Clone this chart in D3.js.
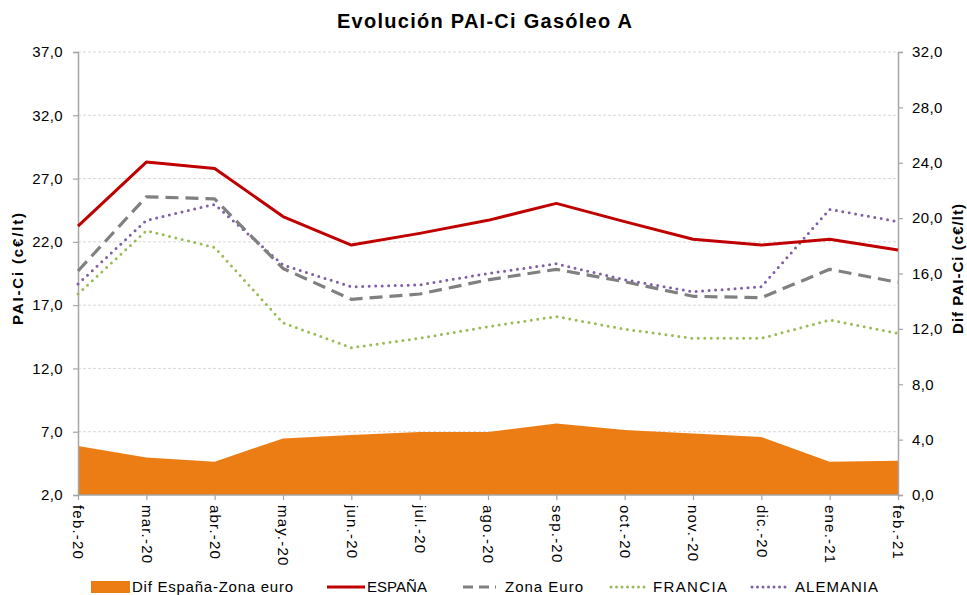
<!DOCTYPE html>
<html><head><meta charset="utf-8">
<script src="https://cdn.jsdelivr.net/npm/d3@7"></script>
<style>body{margin:0;background:#fff}svg{display:block;font-family:"Liberation Sans",Arial,sans-serif}</style>
</head><body><svg id="c" width="967" height="595"></svg>
<script>
const months = ["feb.-20","mar.-20","abr.-20","may.-20","jun.-20","jul.-20","ago.-20","sep.-20","oct.-20","nov.-20","dic.-20","ene.-21","feb.-21"];
const espana   = [23.25,28.3,27.8,24.0,21.75,22.67,23.7,25.04,23.6,22.2,21.75,22.2,21.35];
const zonaEuro = [19.7,25.56,25.4,19.9,17.46,17.88,19.0,19.83,18.85,17.7,17.59,19.83,18.8];
const francia  = [17.88,22.88,21.56,15.6,13.64,14.38,15.3,16.1,15.1,14.38,14.38,15.82,14.77];
const alemania = [18.67,23.7,24.96,20.17,18.45,18.6,19.5,20.27,19.0,18.06,18.45,24.57,23.6];
const dif      = [3.54,2.7,2.4,4.09,4.33,4.55,4.55,5.17,4.69,4.45,4.19,2.4,2.48];
const leftTicks  = [2,7,12,17,22,27,32,37];
const rightTicks = [0,4,8,12,16,20,24,28,32];

const svg = d3.select("#c");
const L=78,R=898,T=52,B=495;
const x = d3.scalePoint().domain(months).range([L,R]);
const yL = d3.scaleLinear().domain([2,37]).range([B,T]);
const yR = d3.scaleLinear().domain([0,32]).range([B,T]);
const axisCol="#A6A6A6";
const fmt = d=>d.toFixed(1).replace(".",",");

// gridlines
svg.append("g").selectAll("line").data(leftTicks.slice(1)).join("line")
  .attr("x1",L).attr("x2",R).attr("y1",d=>yL(d)).attr("y2",d=>yL(d))
  .attr("stroke","#D9D9D9").attr("stroke-width",1).attr("stroke-dasharray","3,2");

// area
svg.append("path").datum(dif)
  .attr("d",d3.area().x((d,i)=>x(months[i])).y0(yR(0)).y1(d=>yR(d)))
  .attr("fill","#EC7C14");

// axes
const gl = svg.append("g").attr("transform",`translate(${L},0)`).call(d3.axisLeft(yL).tickValues(leftTicks).tickFormat(fmt).tickSize(5).tickPadding(10));
const gr = svg.append("g").attr("transform",`translate(${R},0)`).call(d3.axisRight(yR).tickValues(rightTicks).tickFormat(fmt).tickSize(5).tickPadding(9));
const gx = svg.append("g").attr("transform",`translate(0,${B})`).call(d3.axisBottom(x).tickSize(5).tickPadding(0));
[gl,gr,gx].forEach(g=>{
  g.select(".domain").attr("stroke",axisCol).attr("stroke-width",1.5);
  g.selectAll(".tick line").attr("stroke",axisCol).attr("stroke-width",1.2);
  g.selectAll("text").attr("font-size",15).attr("fill","#000").attr("letter-spacing","0.4px")
    .attr("font-family","Liberation Sans, Arial, sans-serif");
});
gx.select(".domain").attr("d",`M${L},0H${R}`);
gx.selectAll(".tick text").attr("transform","rotate(90)").attr("text-anchor","start")
  .attr("x",10).attr("y",0).attr("dy","0.35em").attr("letter-spacing","1.2px");

// lines
const line = d3.line().x((d,i)=>x(months[i])).y(d=>yL(d));
const series = [
  {data:alemania,color:"#7F5FA8",w:3,dash:"0,6.5",cap:"round"},
  {data:francia,color:"#9BBB59",w:3,dash:"0,6.5",cap:"round"},
  {data:zonaEuro,color:"#808080",w:3.2,dash:"13,7",cap:"butt"},
  {data:espana,color:"#C00000",w:3,dash:null,cap:"butt"}
];
series.forEach(s=>{
  svg.append("path").datum(s.data).attr("d",line).attr("fill","none")
    .attr("stroke",s.color).attr("stroke-width",s.w).attr("stroke-linecap",s.cap)
    .attr("stroke-linejoin","round").attr("stroke-dasharray",s.dash);
});

// title
svg.append("text").attr("x",484.5).attr("y",28).attr("text-anchor","middle")
  .attr("font-size",20).attr("font-weight","bold")
  .attr("textLength",295).attr("lengthAdjust","spacing").text("Evolución PAI-Ci Gasóleo A");
// axis titles
svg.append("text").attr("transform",`translate(23,269) rotate(-90)`).attr("text-anchor","middle")
  .attr("font-size",15).attr("font-weight","bold")
  .attr("textLength",112).attr("lengthAdjust","spacing").text("PAI-Ci (c€/lt)");
svg.append("text").attr("transform",`translate(963,269) rotate(-90)`).attr("text-anchor","middle")
  .attr("font-size",15).attr("font-weight","bold")
  .attr("textLength",130).attr("lengthAdjust","spacing").text("Dif PAI-Ci (c€/lt)");

// legend
const lg = svg.append("g");
const ly=587;
lg.append("rect").attr("x",91).attr("y",ly-6).attr("width",39).attr("height",12).attr("fill","#EC7C14");
const legendItems = [
  {t:"Dif España-Zona euro",tx:132,tw:161},
  {t:"ESPAÑA",tx:367,tw:60,x1:327,x2:365,color:"#C00000",dash:null,cap:"butt"},
  {t:"Zona Euro",tx:505,tw:78,x1:463,x2:496,color:"#808080",dash:"10,6",cap:"butt"},
  {t:"FRANCIA",tx:653,tw:74,x1:611,x2:648,color:"#9BBB59",dash:"0,5.5",cap:"round"},
  {t:"ALEMANIA",tx:795,tw:83,x1:752,x2:789,color:"#7F5FA8",dash:"0,5.5",cap:"round"}
];
legendItems.forEach(d=>{
  if(d.x1!==undefined){
    lg.append("line").attr("x1",d.x1).attr("x2",d.x2).attr("y1",ly).attr("y2",ly)
      .attr("stroke",d.color).attr("stroke-width",3).attr("stroke-dasharray",d.dash).attr("stroke-linecap",d.cap);
  }
  lg.append("text").attr("x",d.tx).attr("y",ly).attr("dy","0.35em").attr("font-size",15)
    .attr("textLength",d.tw).attr("lengthAdjust","spacing").text(d.t);
});
</script></body></html>
